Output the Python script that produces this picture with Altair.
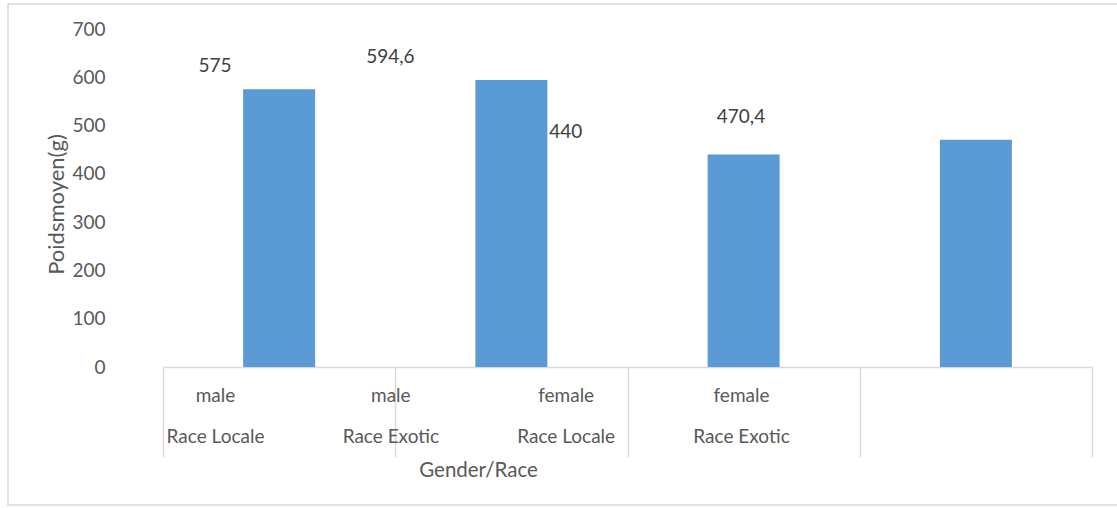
import altair as alt
import pandas as pd

# Mean weight per gender / breed
genders = ["male", "male", "female", "female"]
races = ["Race Locale", "Race Exotic", "Race Locale", "Race Exotic"]
poids = [575, 594.6, 440, 470.4]

categories = [f"{g}|{r}" for g, r in zip(genders, races)]
df = pd.DataFrame({"cat": categories, "poids": poids})
frame_df = pd.DataFrame({"k": [0]})

FONT = "Lato"
GREY = "#595959"
LINE = "#D9D9D9"
BLUE = "#5B9BD5"

W, H = 929, 338

y_scale = alt.Scale(domain=[0, 700], nice=False)
y_axis = alt.Axis(
    values=[0, 100, 200, 300, 400, 500, 600, 700],
    grid=False, domain=False, ticks=False,
    labelPadding=58, labelFont=FONT, labelFontSize=19, labelColor=GREY,
    title="Poidsmoyen(g)", titleFont=FONT, titleFontSize=22, titleColor=GREY,
    titleFontWeight="normal", titleX=-107, titleY=H / 2 + 6, titleBaseline="middle",
)

# Bars on a band scale; the axis draws the category grid lines
bars = alt.Chart(df).mark_bar(color=BLUE, width=alt.RelativeBandSize(0.31)).encode(
    x=alt.X(
        "cat:N", sort=categories,
        scale=alt.Scale(paddingInner=0, paddingOuter=0),
        axis=alt.Axis(
            labels=False, title=None, domainColor=LINE, domainWidth=1.5,
            tickBand="extent", tickSize=90, tickColor=LINE, tickWidth=1.5,
        ),
    ),
    y=alt.Y("poids:Q", scale=y_scale, axis=y_axis),
)

# Value labels and category labels share a compressed point scale
labels = alt.Chart(df).transform_calculate(
    txt="replace(toString(datum.poids), '.', ',')"
).mark_text(
    font=FONT, fontSize=19, color="#404040", baseline="middle", dy=-23
).encode(
    x=alt.X(
        "cat:N", sort=categories,
        scale=alt.Scale(type="point", range=[52, 578], padding=0),
        axis=alt.Axis(
            orient="bottom", domain=False, ticks=False, grid=False,
            labelExpr="split(datum.label, '|')", labelLineHeight=41,
            labelPadding=28, labelBaseline="middle", labelAngle=0,
            labelFont=FONT, labelFontSize=19, labelColor=GREY,
            title="Gender/Race", titleFont=FONT, titleFontSize=20.5,
            titleColor=GREY, titleFontWeight="normal", titlePadding=14,
        ),
    ),
    y=alt.Y("poids:Q", scale=y_scale),
    text="txt:N",
)

frame = alt.Chart(frame_df).mark_rect(
    filled=False, stroke=LINE, strokeWidth=1.5
).encode(
    x=alt.value(-155), x2=alt.value(W + 40),
    y=alt.value(-25), y2=alt.value(476),
)

chart = alt.layer(frame, bars, labels).resolve_scale(x="independent").properties(
    width=W, height=H,
    background="white",
    autosize=alt.AutoSizeParams(type="none"),
    padding={"left": 163, "top": 29, "right": 25, "bottom": 141},
).configure_view(stroke=None)

chart.save("out.html", embed_options={"renderer": "svg", "actions": False})
